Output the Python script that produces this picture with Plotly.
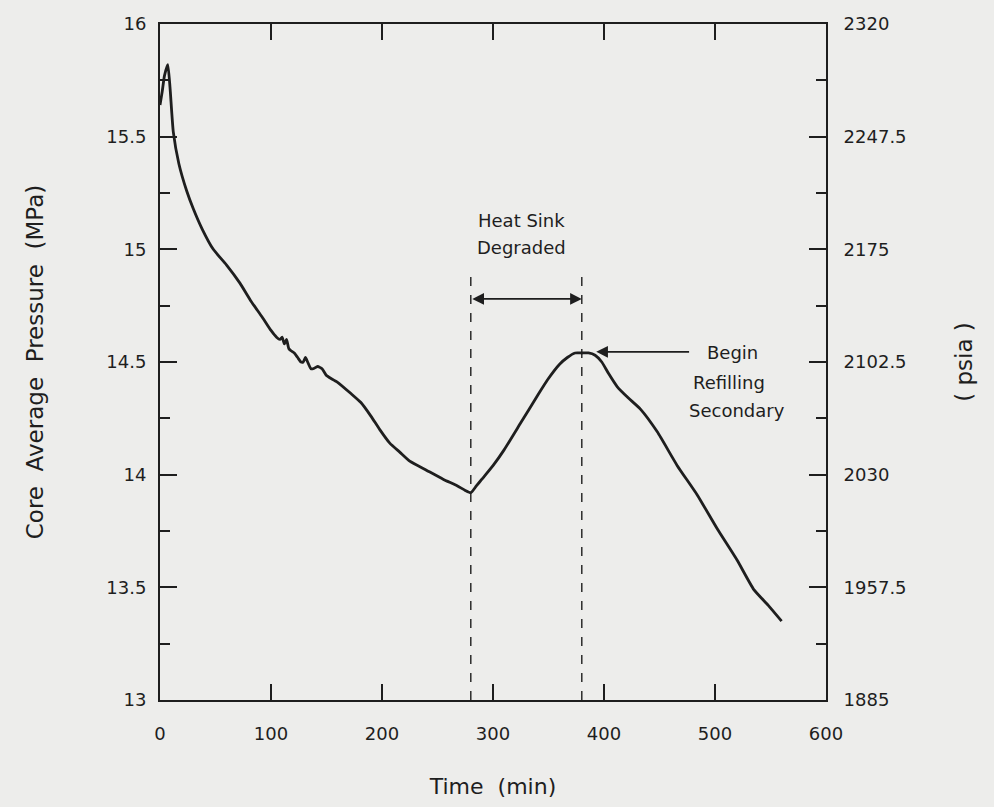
import plotly.graph_objects as go

# ---- data ----
time_min = [0, 2, 4, 7, 9, 12, 17, 24, 30, 38, 48, 60, 72, 82, 92, 100, 105, 108, 110,
            112, 114, 116, 118, 121, 124, 127, 129, 131, 133, 136, 138, 142, 146, 150,
            153, 160, 172, 181, 190, 198, 207, 216, 225, 240, 255, 268, 275, 280, 285,
            290, 300, 310, 325, 340, 349, 360, 367, 374, 380, 386, 392, 398, 404, 412,
            422, 433, 448, 466, 484, 502, 520, 535, 548, 560]
pressure_mpa = [15.64, 15.70, 15.77, 15.82, 15.72, 15.52, 15.38, 15.26, 15.18, 15.09,
                15.00, 14.93, 14.85, 14.77, 14.70, 14.64, 14.61, 14.60, 14.61,
                14.58, 14.60, 14.56, 14.55, 14.54, 14.52, 14.50, 14.50, 14.52, 14.50,
                14.47, 14.47, 14.48, 14.47, 14.44, 14.43, 14.41, 14.36, 14.32, 14.26,
                14.20, 14.14, 14.10, 14.06, 14.02, 13.98, 13.95, 13.93, 13.92, 13.95,
                13.98, 14.04, 14.11, 14.23, 14.35, 14.42, 14.49, 14.52, 14.54, 14.54,
                14.54, 14.53, 14.50, 14.45, 14.39, 14.34, 14.29, 14.19, 14.04, 13.91,
                13.76, 13.62, 13.49, 13.42, 13.35]

event_times = [280, 380]          # heat sink degraded start / begin refilling
event_line_top = 14.88

x_ticks = [0, 100, 200, 300, 400, 500, 600]
y_ticks = [13, 13.5, 14, 14.5, 15, 15.5, 16]
y_tick_text = ["13", "13.5", "14", "14.5", "15", "15.5", "16"]
psia_ticks = [1885, 1957.5, 2030, 2102.5, 2175, 2247.5, 2320]
psia_tick_text = ["1885", "1957.5", "2030", "2102.5", "2175", "2247.5", "2320"]

FONT = "DejaVu Sans"
BG = "#ededeb"
INK = "#1e1e1e"

fig = go.Figure()

fig.add_trace(go.Scatter(x=time_min, y=pressure_mpa, mode="lines",
                         line=dict(color=INK, width=2.8, shape="spline", smoothing=0.5),
                         showlegend=False, hoverinfo="skip"))

for t in event_times:
    fig.add_trace(go.Scatter(x=[t, t], y=[13, event_line_top], mode="lines",
                             line=dict(color=INK, width=1.4, dash="dash"),
                             showlegend=False, hoverinfo="skip"))

# invisible trace to activate the right axis
fig.add_trace(go.Scatter(x=[0, 600], y=[1885, 2320], yaxis="y2", mode="lines",
                         line=dict(width=0), opacity=0, showlegend=False,
                         hoverinfo="skip"))

ann_font = dict(size=18, family=FONT, color=INK)
annotations = [
    dict(x=326, y=15.13, text="Heat Sink", showarrow=False, font=ann_font),
    dict(x=326, y=15.01, text="Degraded", showarrow=False, font=ann_font),
    # double arrow between the event lines
    dict(x=event_times[1], y=14.78, ax=event_times[0], ay=14.78,
         xref="x", yref="y", axref="x", ayref="y", text="", showarrow=True,
         arrowhead=2, arrowside="end+start", arrowsize=1.3, arrowwidth=1.8,
         arrowcolor=INK),
    # begin refilling arrow
    dict(x=393, y=14.545, ax=478, ay=14.545, xref="x", yref="y", axref="x",
         ayref="y", text="", showarrow=True, arrowhead=2, arrowsize=1.3,
         arrowwidth=1.8, arrowcolor=INK),
    dict(x=516, y=14.54, text="Begin", showarrow=False, font=ann_font),
    dict(x=513, y=14.41, text="Refilling", showarrow=False, font=ann_font),
    dict(x=520, y=14.285, text="Secondary", showarrow=False, font=ann_font),
]

fig.update_layout(
    width=994, height=807,
    margin=dict(l=160, r=168, t=24, b=107),
    paper_bgcolor=BG, plot_bgcolor=BG,
    font=dict(family=FONT, color=INK, size=18),
    showlegend=False,
    annotations=annotations,
    xaxis=dict(
        range=[0, 600], tickvals=x_ticks, ticktext=[str(v) for v in x_ticks],
        showgrid=False, zeroline=False, showline=True, linecolor=INK, linewidth=2,
        mirror="ticks", ticks="inside", ticklen=16, tickwidth=1.6, tickcolor=INK,
        ticklabelstandoff=16, tickfont=dict(size=18, family=FONT),
        title=dict(text="Time  (min)", font=dict(size=22, family=FONT), standoff=36),
    ),
    yaxis=dict(
        range=[13, 16], tickvals=y_ticks, ticktext=y_tick_text,
        showgrid=False, zeroline=False, showline=True, linecolor=INK, linewidth=2,
        ticks="inside", ticklen=17, tickwidth=1.6, tickcolor=INK,
        minor=dict(dtick=0.25, ticks="inside", ticklen=10, tickwidth=1.6,
                   tickcolor=INK, showgrid=False),
        ticklabelstandoff=8, tickfont=dict(size=18, family=FONT),
        title=dict(text="Core  Average  Pressure  (MPa)",
                   font=dict(size=23, family=FONT), standoff=56),
    ),
    yaxis2=dict(
        range=[1885, 2320], overlaying="y", side="right",
        tickvals=psia_ticks, ticktext=psia_tick_text,
        showgrid=False, zeroline=False, showline=True, linecolor=INK, linewidth=2,
        ticks="inside", ticklen=17, tickwidth=1.6, tickcolor=INK,
        minor=dict(dtick=36.25, tick0=1885, ticks="inside", ticklen=10,
                   tickwidth=1.6, tickcolor=INK, showgrid=False),
        ticklabelstandoff=12, tickfont=dict(size=18, family=FONT),
        title=dict(text="( psia )", font=dict(size=23, family=FONT), standoff=50),
    ),
)

fig.write_html("out.html",
               config={"displayModeBar": False},
               post_script="document.body.style.margin='0';"
                           "document.body.style.overflow='hidden';"
                           "document.body.style.background='" + BG + "';")
